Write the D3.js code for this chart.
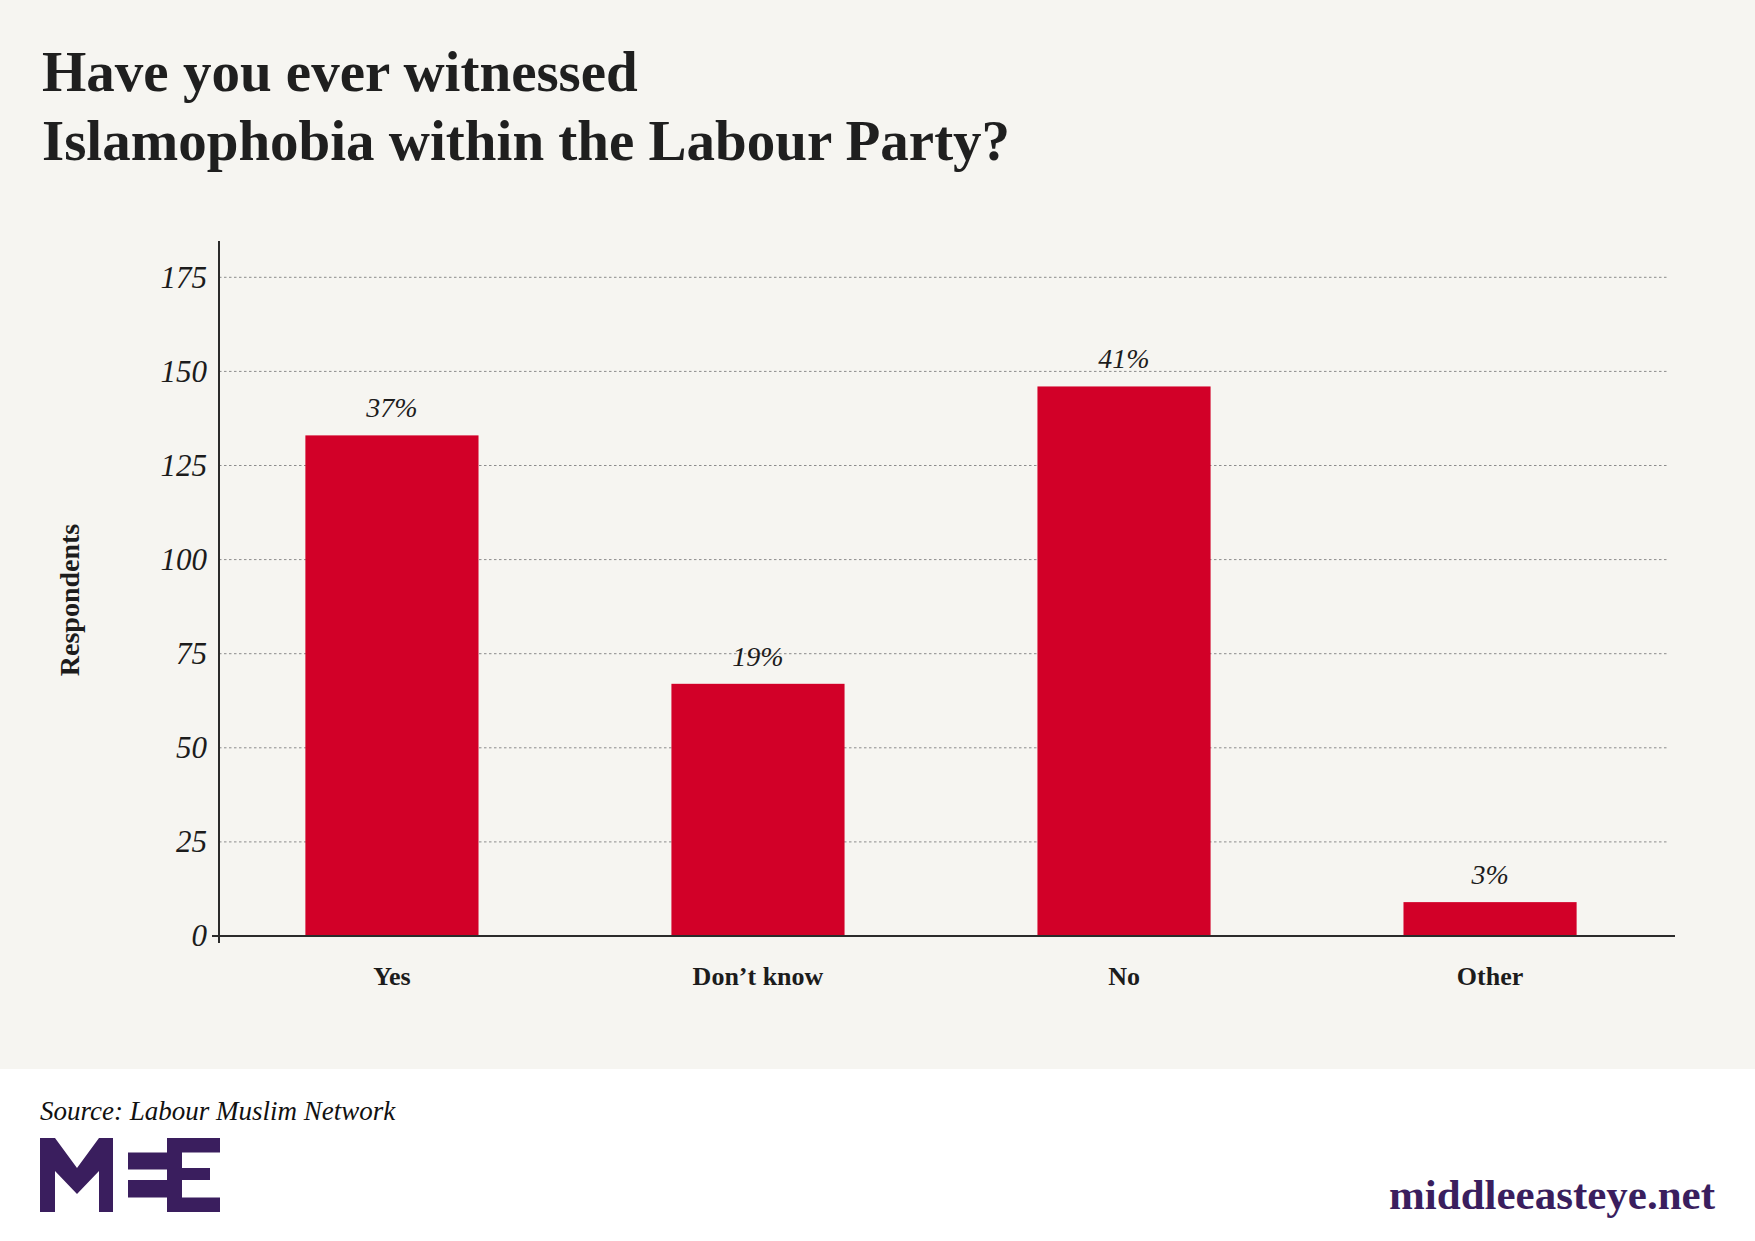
<!DOCTYPE html>
<html>
<head>
<meta charset="utf-8">
<script src="https://cdn.jsdelivr.net/npm/d3@7"></script>
<style>
  html, body { margin: 0; padding: 0; background: #ffffff; }
  svg { display: block; }
  .tick text { fill: #1c1c1c; }
</style>
</head>
<body>
<div id="chart_area"></div>
<script>
// data
var categories = ["Yes", "Don\u2019t know", "No", "Other"];
var respondents = [133, 67, 146, 9];
var shareLabels = ["37%", "19%", "41%", "3%"];
var yTicks = [0, 25, 50, 75, 100, 125, 150, 175];
var titleLines = ["Have you ever witnessed", "Islamophobia within the Labour Party?"];

var width = 1755, height = 1241;
var serif = "'Liberation Serif', 'Times New Roman', serif";
var ink = "#1c1c1c", purple = "#3a1e5e", barColor = "#d20028";

var svg = d3.select("#chart_area")
    .append("svg")
    .attr("width", width)
    .attr("height", height);

// cream panel behind title + chart
svg.append("rect")
    .attr("x", 0).attr("y", 0)
    .attr("width", width).attr("height", 1069)
    .attr("fill", "#f6f5f1");

// title
svg.append("g").selectAll("text")
    .data(titleLines)
    .enter().append("text")
    .attr("x", 42)
    .attr("y", function (d, i) { return 91 + i * 68.6; })
    .style("font-family", serif)
    .style("font-weight", "bold")
    .style("font-size", "57px")
    .style("fill", "#1f1f1f")
    .text(function (d) { return d; });

var x = d3.scaleBand()
    .domain(categories)
    .range([219, 1663])
    .paddingInner(0.527)
    .paddingOuter(0.236);

var y = d3.scaleLinear()
    .domain([0, 175])
    .range([936, 277.3]);

// dotted gridlines
svg.append("g")
    .selectAll("line")
    .data(yTicks.filter(function (d) { return d > 0; }))
    .enter().append("line")
    .attr("x1", 219).attr("x2", 1667)
    .attr("y1", function (d) { return y(d); })
    .attr("y2", function (d) { return y(d); })
    .style("stroke", "#8c8c8c")
    .style("stroke-width", 1)
    .style("stroke-dasharray", "2.5,2.5");

// bars
svg.append("g")
    .selectAll("rect")
    .data(respondents)
    .enter().append("rect")
    .attr("x", function (d, i) { return x(categories[i]); })
    .attr("y", function (d) { return y(d); })
    .attr("width", x.bandwidth())
    .attr("height", function (d) { return y(0) - y(d); })
    .style("fill", barColor);

// percentage labels above bars
svg.append("g")
    .selectAll("text")
    .data(respondents)
    .enter().append("text")
    .attr("x", function (d, i) { return x(categories[i]) + x.bandwidth() / 2; })
    .attr("y", function (d) { return y(d) - 18; })
    .attr("text-anchor", "middle")
    .style("font-family", serif)
    .style("font-style", "italic")
    .style("font-size", "28px")
    .style("fill", ink)
    .text(function (d, i) { return shareLabels[i]; });

// y axis labels
var yAxis = svg.append("g")
    .attr("transform", "translate(219,0)")
    .call(d3.axisLeft(y).tickValues(yTicks).tickSize(0).tickPadding(12));
yAxis.select(".domain").remove();
yAxis.selectAll("text")
    .style("font-family", serif)
    .style("font-style", "italic")
    .style("font-size", "31px");

// x axis labels
var xAxis = svg.append("g")
    .attr("transform", "translate(0,936)")
    .call(d3.axisBottom(x).tickSize(0).tickPadding(31));
xAxis.select(".domain").remove();
xAxis.selectAll("text")
    .style("font-family", serif)
    .style("font-weight", "bold")
    .style("font-size", "26px");

// axis lines
svg.append("line")
    .attr("x1", 219).attr("x2", 219)
    .attr("y1", 241).attr("y2", 943)
    .style("stroke", "#2b2b2b").style("stroke-width", 2);
svg.append("line")
    .attr("x1", 212).attr("x2", 1675)
    .attr("y1", 936).attr("y2", 936)
    .style("stroke", "#2b2b2b").style("stroke-width", 2);

// y axis title
svg.append("text")
    .attr("transform", "translate(79,600) rotate(-90)")
    .attr("text-anchor", "middle")
    .style("font-family", serif)
    .style("font-weight", "bold")
    .style("font-size", "28px")
    .style("fill", ink)
    .text("Respondents");

// footer
svg.append("text")
    .attr("x", 40).attr("y", 1120)
    .style("font-family", serif)
    .style("font-style", "italic")
    .style("font-size", "27px")
    .style("fill", "#111")
    .text("Source: Labour Muslim Network");

svg.append("text")
    .attr("x", 1715).attr("y", 1209)
    .attr("text-anchor", "end")
    .style("font-family", serif)
    .style("font-weight", "bold")
    .style("font-size", "43px")
    .style("fill", purple)
    .text("middleeasteye.net");

// MEE logo
var logo = svg.append("g").style("fill", purple);
logo.append("polygon")
    .attr("points", "40,1138 55,1138 77,1168 99,1138 113,1138 113,1212 99,1212 99,1171 77,1194 55,1171 55,1212 40,1212");
var logoBlocks = [
    [167, 1138, 53, 14.5],
    [128, 1152.5, 39, 17],
    [167, 1138, 15, 74],
    [181, 1168, 29, 12],
    [128, 1180, 39, 17.5],
    [167, 1197.5, 53, 14.5]
];
logo.selectAll("rect")
    .data(logoBlocks)
    .enter().append("rect")
    .attr("x", function (d) { return d[0]; })
    .attr("y", function (d) { return d[1]; })
    .attr("width", function (d) { return d[2]; })
    .attr("height", function (d) { return d[3]; });
</script>
</body>
</html>
